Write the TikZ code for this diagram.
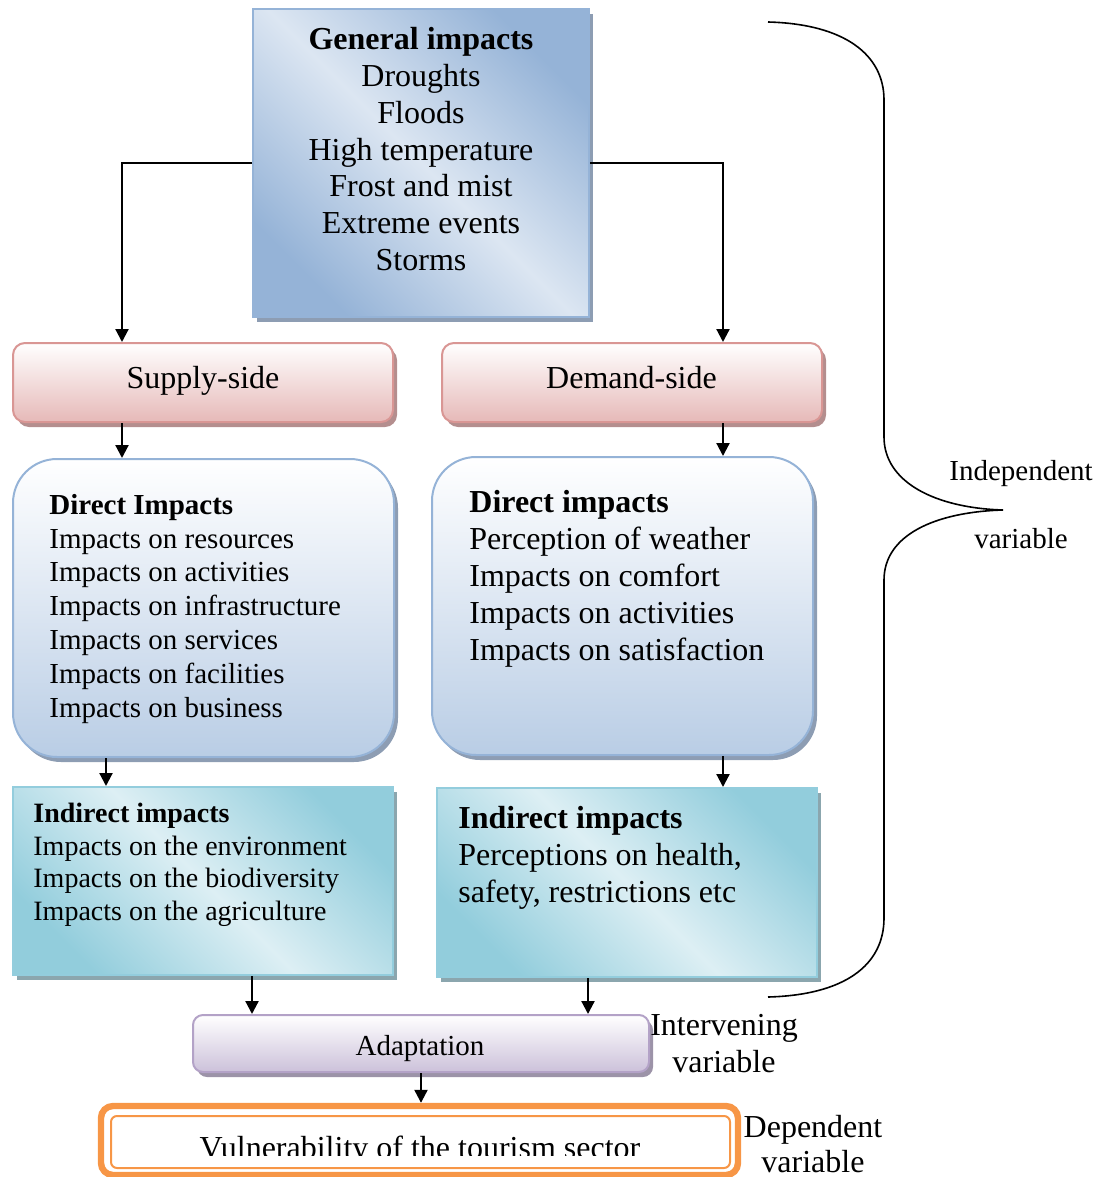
\documentclass[tikz,border=0pt]{standalone}
\usepackage{fontspec}
\setmainfont{Liberation Serif}
\usetikzlibrary{arrows.meta,shadows}

% palette
\definecolor{bdark}{HTML}{95B3D7}
\definecolor{blight}{HTML}{DCE6F2}
\definecolor{tdark}{HTML}{92CDDC}
\definecolor{tlight}{HTML}{DDEFF4}
\definecolor{pinkline}{HTML}{D99694}
\definecolor{pinkbot}{HTML}{E6B9B8}
\definecolor{blueline}{HTML}{95B3D7}
\definecolor{bluebot}{HTML}{B9CDE5}
\definecolor{lavline}{HTML}{B3A2C7}
\definecolor{lavbot}{HTML}{CCC1DA}
\definecolor{tealline}{HTML}{93CDDD}
\definecolor{orangeline}{HTML}{F79646}
\definecolor{shblue}{HTML}{8D9DB3}
\definecolor{shpink}{HTML}{B48E8E}
\definecolor{shteal}{HTML}{8BA6AE}
\definecolor{shlav}{HTML}{9C93A8}

% diagonal gradients, dark at two opposite corners and light along the middle
\pgfdeclarehorizontalshading{bluerefl}{100bp}{color(0bp)=(bdark); color(25bp)=(bdark); color(50bp)=(blight); color(75bp)=(bdark); color(100bp)=(bdark)}
\pgfdeclarehorizontalshading{tealrefl}{100bp}{color(0bp)=(tdark); color(25bp)=(tdark); color(50bp)=(tlight); color(75bp)=(tdark); color(100bp)=(tdark)}

\tikzset{
  box/.style={inner sep=0pt, line width=1pt},
  shade/.style={drop shadow={shadow xshift=2pt, shadow yshift=-2.5pt, fill=#1, opacity=1}},
  genbox/.style={box, draw=bdark, shading=bluerefl, shading angle=45, shade=shblue},
  sidebox/.style={box, draw=pinkline, top color=white, bottom color=pinkbot, rounded corners=6pt, shade=shpink},
  dirbox/.style={box, draw=blueline, top color=white, bottom color=bluebot, rounded corners=22pt, shade=shblue},
  indbox/.style={box, draw=tealline, shading=tealrefl, shading angle=45, shade=shteal},
  adbox/.style={box, draw=lavline, top color=white, bottom color=lavbot, rounded corners=5pt, shade=shlav},
  arr/.style={line width=1.1pt, -{Triangle[length=6.5pt,width=6.5pt]}},
  tA/.style={inner sep=0pt, font=\fontsize{16}{19}\selectfont},
  tB/.style={inner sep=0pt, font=\fontsize{14.5}{17}\selectfont},
  tC/.style={inner sep=0pt, font=\fontsize{14}{16.5}\selectfont},
}

\begin{document}
\begin{tikzpicture}[x=0.5pt, y=-0.5pt]
\useasboundingbox (0,0) rectangle (1113,1177);

% ---- boxes ----
\node[genbox, minimum width=168pt, minimum height=154pt] (gen) at (421,163) {};
\node[sidebox, minimum width=190pt, minimum height=39.5pt] (supply) at (203,382.5) {};
\node[sidebox, minimum width=190pt, minimum height=39.5pt] (demand) at (632,382.5) {};
\node[dirbox, minimum width=190.5pt, minimum height=149pt] (dirL) at (203.5,608) {};
\node[dirbox, minimum width=190.5pt, minimum height=149pt] (dirR) at (622.5,606) {};
\node[indbox, minimum width=190pt, minimum height=94pt] (indL) at (203,881) {};
\node[indbox, minimum width=190pt, minimum height=94.5pt] (indR) at (627,882.5) {};
\node[adbox, minimum width=228pt, minimum height=28.5pt] (adapt) at (421,1043.5) {};
\node[box, draw=orangeline, line width=3.2pt, rounded corners=6pt,
      minimum width=318.5pt, minimum height=34.5pt] (vuln) at (419.5,1140.5) {};
\node[box, draw=orangeline, line width=1pt, rounded corners=3pt,
      minimum width=309.5pt, minimum height=26pt] (vulnin) at (420.5,1142) {};

% ---- texts ----
\node[tA, anchor=base] (genT) at (421,50) {\textbf{General impacts}};
\foreach \t [count=\i from 0] in {Droughts, Floods, High temperature, Frost and mist, Extreme events, Storms}
  \node[tA, anchor=base] (gen\i) at (421,{87+36.6*\i}) {\t};

\node[tA, anchor=base] (supT) at (203,388) {Supply-side};
\node[tA, anchor=base] (demT) at (631.5,388) {Demand-side};

\node[tB, anchor=base west] (dlT) at (49,514) {\textbf{Direct Impacts}};
\foreach \t [count=\i from 0] in {resources, activities, infrastructure, services, facilities, business}
  \node[tB, anchor=base west] (dl\i) at (49,{548+33.8*\i}) {Impacts on \t};

\node[tA, anchor=base west] (drT) at (469,512) {\textbf{Direct impacts}};
\foreach \t [count=\i from 0] in {Perception of weather, Impacts on comfort, Impacts on activities, Impacts on satisfaction}
  \node[tA, anchor=base west] (dr\i) at (469,{549+37*\i}) {\t};

\node[tC, anchor=base west] (ilT) at (33,822) {\textbf{Indirect impacts}};
\foreach \t [count=\i from 0] in {environment, biodiversity, agriculture}
  \node[tC, anchor=base west] (il\i) at (33,{855+32.6*\i}) {Impacts on the \t};

\node[tA, anchor=base west] (irT) at (458,828) {\textbf{Indirect impacts}};
\node[tA, anchor=base west] (ir0) at (458,865) {Perceptions on health,};
\node[tA, anchor=base west] (ir1) at (458,902) {safety, restrictions etc};

\node[tB, anchor=base] (adT) at (420,1055) {Adaptation};

\begin{scope}
  \clip (100,1100) rectangle (740,1155);
  \node[tA, anchor=base] (vuT) at (420,1158) {Vulnerability of the tourism sector};
\end{scope}

\node[tA, anchor=base] (iv0) at (724,1035) {Intervening};
\node[tA, anchor=base] (iv1) at (724,1072) {variable};
\node[tA, anchor=base] (dp0) at (813,1137) {Dependent};
\node[tA, anchor=base] (dp1) at (813,1172) {variable};
\node[tB, anchor=base] (in0) at (1021,480) {Independent};
\node[tB, anchor=base] (in1) at (1021,548) {variable};

% ---- connectors ----
\draw[arr] (gen.west) -| ([xshift=55pt]supply.north west);
\draw[arr] (gen.east) -| ([xshift=-50pt]demand.north east);
\draw[arr] ([xshift=55pt]supply.south west) -- ([xshift=55pt]supply.south west |- dirL.north);
\draw[arr] ([xshift=-50pt]demand.south east) -- ([xshift=-50pt]demand.south east |- dirR.north);
\draw[arr] ([xshift=47pt]dirL.south west) -- ([xshift=47pt]dirL.south west |- indL.north);
\draw[arr] ([xshift=-45.5pt]dirR.south east) -- ([xshift=-45.5pt]dirR.south east |- indR.north);
\draw[arr] ([xshift=120pt]indL.south west) -- ([xshift=120pt]indL.south west |- adapt.north);
\draw[arr] ([xshift=76pt]indR.south west) -- ([xshift=76pt]indR.south west |- adapt.north);
\draw[arr] (adapt.south) -- (adapt.south |- vuln.north);

% ---- brace for the independent variables ----
\draw[line width=0.8pt]
  (768,22) .. controls (845,24) and (884,55) .. (884,100)
  -- (884,437) .. controls (884,482) and (935,508) .. (1003,510)
  .. controls (935,512) and (884,535) .. (884,580)
  -- (884,918) .. controls (884,965) and (845,995) .. (768,997);
\end{tikzpicture}
\end{document}
